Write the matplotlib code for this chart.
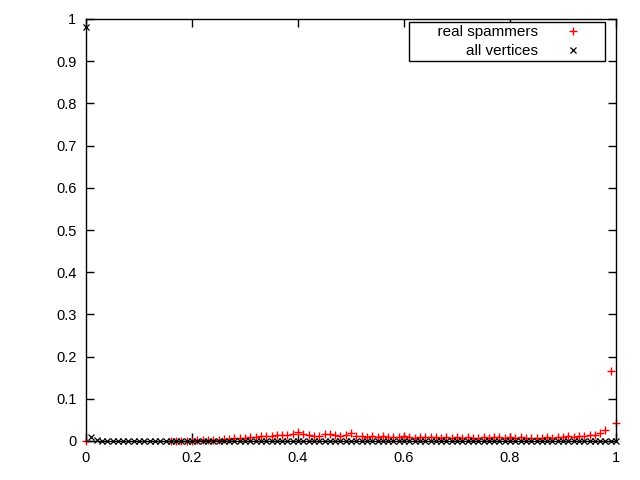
import matplotlib as mpl
mpl.use('Agg')
import matplotlib.pyplot as plt
import numpy as np

x_bins = [i / 100 for i in range(101)]

nan = float('nan')

# fraction of real spammers per bin (empty bins left out)
spammers = [0.0] + [nan] * 15 + [
    0.0005, 0.0005, 0.001, 0.001,                          # 0.16 - 0.19
    0.001, 0.002, 0.002, 0.002, 0.003, 0.003,              # 0.20 - 0.25
    0.004, 0.005, 0.006, 0.007, 0.008,                     # 0.26 - 0.30
    0.009, 0.010, 0.011, 0.012, 0.013,                     # 0.31 - 0.35
    0.014, 0.015, 0.014, 0.016, 0.021,                     # 0.36 - 0.40
    0.016, 0.015, 0.013, 0.012, 0.016,                     # 0.41 - 0.45
    0.017, 0.015, 0.013, 0.014, 0.018,                     # 0.46 - 0.50
    0.013, 0.012, 0.010, 0.011, 0.010,                     # 0.51 - 0.55
    0.012, 0.010, 0.009, 0.010, 0.011,                     # 0.56 - 0.60
    0.009, 0.008, 0.009, 0.010, 0.010,                     # 0.61 - 0.65
    0.009, 0.008, 0.009, 0.008, 0.009,                     # 0.66 - 0.70
    0.008, 0.009, 0.008, 0.008, 0.009,                     # 0.71 - 0.75
    0.008, 0.009, 0.009, 0.008, 0.009,                     # 0.76 - 0.80
    0.008, 0.009, 0.008, 0.008, 0.008,                     # 0.81 - 0.85
    0.008, 0.009, 0.008, 0.009, 0.010,                     # 0.86 - 0.90
    0.011, 0.010, 0.012, 0.013, 0.014,                     # 0.91 - 0.95
    0.014, 0.020, 0.026, 0.165, 0.043,                     # 0.96 - 1.00
]

# fraction of all vertices per bin
vertices = [0.98, 0.010, 0.002] + [0.001] * 97 + [0.0]

fig = plt.figure(figsize=(6.4, 4.8), dpi=100)
ax = fig.add_axes([86 / 640, 39 / 480, 530 / 640, 422 / 480])

plt.rcParams['font.family'] = ['Liberation Sans', 'DejaVu Sans']

ax.plot(x_bins, spammers, linestyle='none', marker='+', color='#ff0000',
        markersize=5.5, markeredgewidth=1.0, label='      real spammers', clip_on=False)
ax.plot(x_bins, vertices, linestyle='none', marker='x', color='black',
        markersize=5, markeredgewidth=0.9, label='all vertices', clip_on=False)

ax.set_xlim(0, 1)
ax.set_ylim(0, 1)
ax.set_xticks([0, 0.2, 0.4, 0.6, 0.8, 1])
ax.set_xticklabels(['0', '0.2', '0.4', '0.6', '0.8', '1'], family='Liberation Sans', fontsize=10.5)
ax.set_yticks(np.arange(0, 1.01, 0.1))
ax.set_yticklabels(['0', '0.1', '0.2', '0.3', '0.4', '0.5', '0.6', '0.7', '0.8', '0.9', '1'],
                   family='Liberation Sans', fontsize=10.5)
ax.tick_params(direction='in', length=6, width=1, top=True, right=True, pad=7)
for s in ax.spines.values():
    s.set_linewidth(1)

leg = ax.legend(loc='upper right', bbox_to_anchor=(0.979, 0.993), markerfirst=False,
                frameon=True, fancybox=False, edgecolor='black', framealpha=1,
                prop={'family': 'Liberation Sans', 'size': 11},
                borderpad=0.2, labelspacing=0.35, handletextpad=0.35, handlelength=3.8,
                borderaxespad=0)
leg.get_frame().set_linewidth(1)
for t in leg.get_texts():
    t.set_ha('right')

fig.savefig('out.png', dpi=100)
